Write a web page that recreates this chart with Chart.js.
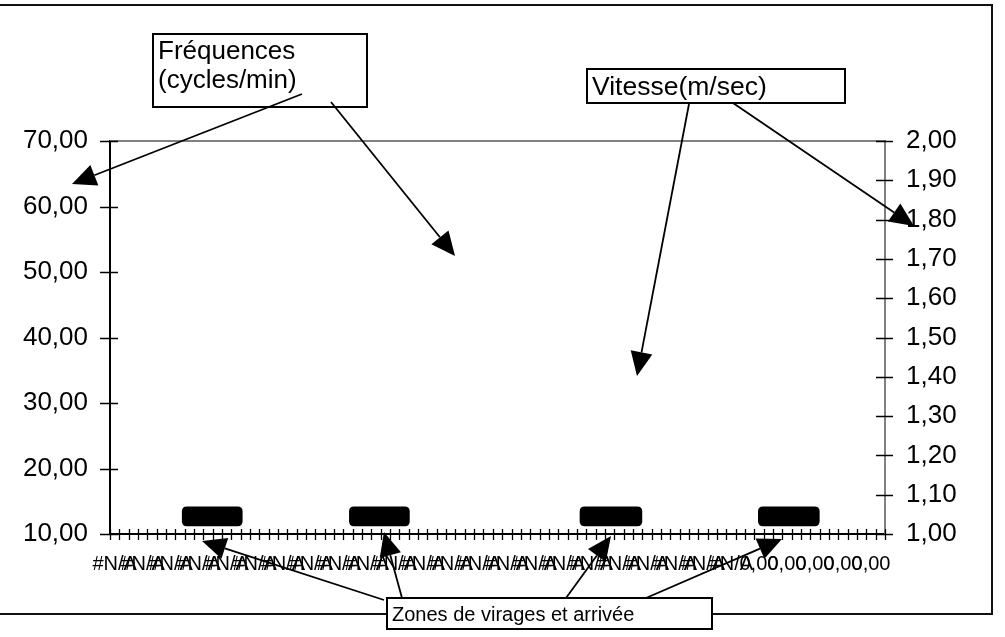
<!DOCTYPE html>
<html>
<head>
<meta charset="utf-8">
<script src="https://cdn.jsdelivr.net/npm/chart.js@4/dist/chart.umd.min.js"></script>
<style>
  html, body { margin: 0; padding: 0; background: #fff; }
  canvas { display: block; }
</style>
</head>
<body>
<canvas id="myChart" width="1005" height="637"></canvas>
<script>
// category labels as exported (68 x "#N/A" then 15 x "0,00")
const categories = [
  "#N/A", "#N/A", "#N/A", "#N/A", "#N/A", "#N/A", "#N/A", "#N/A", "#N/A", "#N/A",
  "#N/A", "#N/A", "#N/A", "#N/A", "#N/A", "#N/A", "#N/A", "#N/A", "#N/A", "#N/A",
  "#N/A", "#N/A", "#N/A", "#N/A", "#N/A", "#N/A", "#N/A", "#N/A", "#N/A", "#N/A",
  "#N/A", "#N/A", "#N/A", "#N/A", "#N/A", "#N/A", "#N/A", "#N/A", "#N/A", "#N/A",
  "#N/A", "#N/A", "#N/A", "#N/A", "#N/A", "#N/A", "#N/A", "#N/A", "#N/A", "#N/A",
  "#N/A", "#N/A", "#N/A", "#N/A", "#N/A", "#N/A", "#N/A", "#N/A", "#N/A", "#N/A",
  "#N/A", "#N/A", "#N/A", "#N/A", "#N/A", "#N/A", "#N/A", "#N/A",
  "0,00", "0,00", "0,00", "0,00", "0,00", "0,00", "0,00", "0,00", "0,00", "0,00",
  "0,00", "0,00", "0,00", "0,00", "0,00"
];

// series: nothing readable on the chart (#N/A, or 0 which is below both axes)
const frequences = [
  null, null, null, null, null, null, null, null, null, null,
  null, null, null, null, null, null, null, null, null, null,
  null, null, null, null, null, null, null, null, null, null,
  null, null, null, null, null, null, null, null, null, null,
  null, null, null, null, null, null, null, null, null, null,
  null, null, null, null, null, null, null, null, null, null,
  null, null, null, null, null, null, null, null,
  0, 0, 0, 0, 0, 0, 0, 0, 0, 0,
  0, 0, 0, 0, 0
];
const vitesse = [
  null, null, null, null, null, null, null, null, null, null,
  null, null, null, null, null, null, null, null, null, null,
  null, null, null, null, null, null, null, null, null, null,
  null, null, null, null, null, null, null, null, null, null,
  null, null, null, null, null, null, null, null, null, null,
  null, null, null, null, null, null, null, null, null, null,
  null, null, null, null, null, null, null, null,
  0, 0, 0, 0, 0, 0, 0, 0, 0, 0,
  0, 0, 0, 0, 0
];

const freqTicks = [10, 20, 30, 40, 50, 60, 70];
const vitTicks = [1.0, 1.1, 1.2, 1.3, 1.4, 1.5, 1.6, 1.7, 1.8, 1.9, 2.0];

// turn / finish zones (category units, left-axis units)
const zoneStart = [7.2, 25.1, 49.8, 68.9];
const zoneEnd = [13.7, 31.6, 56.5, 75.5];
const zoneLow = 11.2;
const zoneHigh = 14.2;

const FONT = "'Liberation Sans', Arial, sans-serif";
const fr = v => v.toFixed(2).replace(".", ",");

// callout boxes and arrows drawn on top of the chart
const boxes = [
  { x: 153, y: 34, w: 214, h: 73, size: 26, lines: [["Fréquences", 59], ["(cycles/min)", 88]] },
  { x: 587, y: 69, w: 258, h: 34, size: 26.5, lines: [["Vitesse(m/sec)", 95]] },
  { x: 387, y: 598, w: 325, h: 31, size: 20, lines: [["Zones de virages et arrivée", 621]] },
];
const arrows = [
  [302, 94, 72, 184],
  [331, 102, 455, 256],
  [689, 104, 637, 376],
  [733, 103, 914, 226],
  [384, 600, 202, 541],
  [402, 598, 384, 532],
  [566, 598, 611, 536],
  [646, 598, 782, 539],
];

function arrow(ctx, x1, y1, x2, y2) {
  const a = Math.atan2(y2 - y1, x2 - x1);
  const len = 24, hw = 11;
  const bx = x2 - len * Math.cos(a), by = y2 - len * Math.sin(a);
  ctx.beginPath();
  ctx.moveTo(x1, y1);
  ctx.lineTo(bx, by);
  ctx.stroke();
  ctx.beginPath();
  ctx.moveTo(x2, y2);
  ctx.lineTo(bx + hw * Math.sin(a), by - hw * Math.cos(a));
  ctx.lineTo(bx - hw * Math.sin(a), by + hw * Math.cos(a));
  ctx.closePath();
  ctx.fill();
}

function roundBox(ctx, x, y, w, h, r) {
  ctx.beginPath();
  ctx.moveTo(x + r, y);
  ctx.lineTo(x + w - r, y);
  ctx.quadraticCurveTo(x + w, y, x + w, y + r);
  ctx.lineTo(x + w, y + h - r);
  ctx.quadraticCurveTo(x + w, y + h, x + w - r, y + h);
  ctx.lineTo(x + r, y + h);
  ctx.quadraticCurveTo(x, y + h, x, y + h - r);
  ctx.lineTo(x, y + r);
  ctx.quadraticCurveTo(x, y, x + r, y);
  ctx.closePath();
}

const decorations = {
  id: "decorations",
  beforeDraw(chart) {
    const ctx = chart.ctx;
    ctx.save();
    ctx.fillStyle = "#fff";
    ctx.fillRect(0, 0, chart.width, chart.height);
    ctx.strokeStyle = "#111";
    ctx.lineWidth = 2;
    ctx.strokeRect(-5, 5, 997, 609);
    ctx.restore();
  },
  afterDraw(chart) {
    const ctx = chart.ctx;
    const area = chart.chartArea;
    const x = chart.scales.x, y = chart.scales.y, y2 = chart.scales.y2;
    ctx.save();

    // plot area top border
    ctx.strokeStyle = "#808080";
    ctx.lineWidth = 2;
    ctx.beginPath();
    ctx.moveTo(area.left, area.top);
    ctx.lineTo(area.right, area.top);
    ctx.stroke();

    // cross tick marks
    ctx.strokeStyle = "#000";
    ctx.lineWidth = 1.3;
    ctx.beginPath();
    for (let i = 0; i <= categories.length; i++) {
      const px = Math.round(x.getPixelForValue(i - 0.5)) + 0.5;
      ctx.moveTo(px, area.bottom - 5);
      ctx.lineTo(px, area.bottom + 6);
    }
    freqTicks.forEach(v => {
      const py = Math.round(y.getPixelForValue(v)) + 0.5;
      ctx.moveTo(area.left - 10, py);
      ctx.lineTo(area.left + 8, py);
    });
    vitTicks.forEach(v => {
      const py = Math.round(y2.getPixelForValue(v)) + 0.5;
      ctx.moveTo(area.right - 9, py);
      ctx.lineTo(area.right + 8, py);
    });
    ctx.stroke();

    // zones
    ctx.fillStyle = "#000";
    zoneStart.forEach((s, i) => {
      const x1 = x.getPixelForValue(s), x2 = x.getPixelForValue(zoneEnd[i]);
      const yt = y.getPixelForValue(zoneHigh), yb = y.getPixelForValue(zoneLow);
      roundBox(ctx, x1, yt, x2 - x1, yb - yt, 5);
      ctx.fill();
    });

    // callout boxes
    boxes.forEach(b => {
      ctx.fillStyle = "#fff";
      ctx.fillRect(b.x, b.y, b.w, b.h);
      ctx.strokeStyle = "#000";
      ctx.lineWidth = 2;
      ctx.strokeRect(b.x, b.y, b.w, b.h);
      ctx.fillStyle = "#000";
      ctx.font = b.size + "px " + FONT;
      ctx.textBaseline = "alphabetic";
      ctx.textAlign = "left";
      b.lines.forEach(l => ctx.fillText(l[0], b.x + 5, l[1]));
    });

    // arrows
    ctx.strokeStyle = "#000";
    ctx.fillStyle = "#000";
    ctx.lineWidth = 1.8;
    arrows.forEach(a => arrow(ctx, a[0], a[1], a[2], a[3]));

    ctx.restore();
  }
};

Chart.defaults.font.family = FONT;
Chart.defaults.color = "#000";

const ctx = document.getElementById("myChart");
const myChart = new Chart(ctx, {
  type: "line",
  data: {
    labels: categories,
    datasets: [
      {
        label: "Fréquences (cycles/min)",
        data: frequences,
        yAxisID: "y",
        borderColor: "#000080",
        borderWidth: 2,
        pointRadius: 0,
      },
      {
        label: "Vitesse(m/sec)",
        data: vitesse,
        yAxisID: "y2",
        borderColor: "#ff00ff",
        borderWidth: 2,
        pointRadius: 0,
      },
    ],
  },
  options: {
    responsive: false,
    devicePixelRatio: 1,
    animation: false,
    layout: { padding: { top: 141, left: 0, right: 0, bottom: 0 } },
    plugins: { legend: { display: false }, tooltip: { enabled: false } },
    scales: {
      x: {
        offset: true,
        grid: { display: false, drawTicks: false, offset: true },
        border: { color: "#000", width: 2 },
        ticks: {
          autoSkip: false,
          maxRotation: 0,
          minRotation: 0,
          padding: 18,
          font: { size: 20 },
          // Excel shows every third category label
          callback: function (val, i) {
            return i % 3 === 0 ? this.getLabelForValue(val) : "";
          },
        },
        afterFit: s => { s.height = 103; },
      },
      y: {
        position: "left",
        min: 10,
        max: 70,
        grid: { display: false, drawTicks: false },
        border: { color: "#000", width: 2 },
        ticks: { padding: 22, font: { size: 26 }, callback: v => fr(v) },
        afterBuildTicks: s => { s.ticks = freqTicks.map(v => ({ value: v })); },
        afterFit: s => { s.width = 110; },
      },
      y2: {
        position: "right",
        min: 1,
        max: 2,
        grid: { display: false, drawTicks: false },
        border: { color: "#808080", width: 2 },
        ticks: { padding: 21, font: { size: 26 }, callback: v => fr(v) },
        afterBuildTicks: s => { s.ticks = vitTicks.map(v => ({ value: v })); },
        afterFit: s => { s.width = 120; },
      },
    },
  },
  plugins: [decorations],
});
</script>
</body>
</html>
